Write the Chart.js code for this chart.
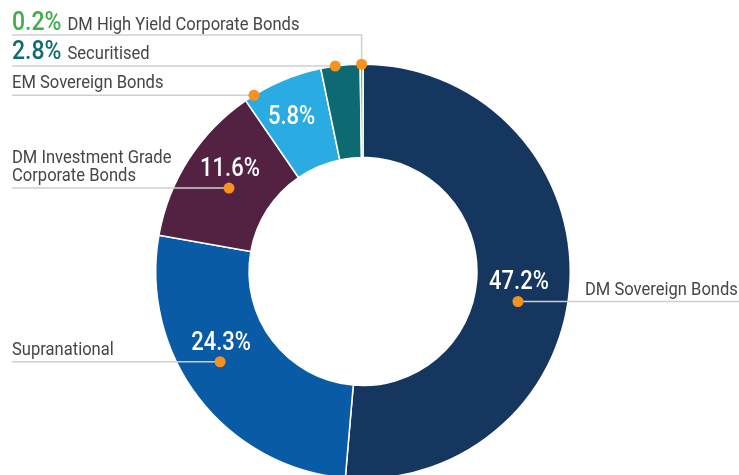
<!DOCTYPE html>
<html>
<head>
<meta charset="utf-8">
<script src="https://cdn.jsdelivr.net/npm/chart.js@4"></script>
<style>
  html, body { margin: 0; padding: 0; background: #fff; overflow: hidden; }
  #wrap { position: absolute; left: 0; top: 0; width: 739px; height: 480px; }
</style>
</head>
<body>
<div id="wrap"><canvas id="chart-allocation"></canvas></div>
<script>
const categories = [
    "DM Sovereign Bonds",
    "Supranational",
    "DM Investment Grade Corporate Bonds",
    "EM Sovereign Bonds",
    "Securitised",
    "DM High Yield Corporate Bonds"
];
const shares = [47.2, 24.3, 11.6, 5.8, 2.8, 0.2];
const sliceColors = ['#15375f', '#0a5ba5', '#532243', '#2aabe2', '#0e6a72', '#5bb947'];
const pctColors = ['#fff', '#fff', '#fff', '#fff', '#0f6b73', '#3fae49'];

const FONT = 'Roboto, "Liberation Sans", sans-serif';
const LINE = '#cfcfcf';
const DOT = '#f7921e';
const TXT = '#464646';

// where the orange marker sits in each slice: fraction along the arc, fraction across the ring
const markers = [
    { along: 0.546, across: 0.47 },
    { along: 0.555, across: 0.59 },
    { along: 0.48, across: 0.47 },
    { along: 0.12, across: 1.0 },
    { along: 0.37, across: 1.0 },
    { along: 0.5, across: 1.0 }
];

function pointOnArc(arc, along, across) {
    const p = arc.getProps(['x', 'y', 'startAngle', 'endAngle', 'innerRadius', 'outerRadius'], true);
    const a = p.startAngle + (p.endAngle - p.startAngle) * along;
    const r = p.innerRadius + (p.outerRadius - p.innerRadius) * across;
    return { x: p.x + Math.cos(a) * r, y: p.y + Math.sin(a) * r };
}

// condensed-looking text: squeeze horizontally
function squeezedText(ctx, text, x, y, align, sq) {
    const w = ctx.measureText(text).width * sq;
    let left = x;
    if (align === 'center') left = x - w / 2;
    ctx.save();
    ctx.textAlign = 'left';
    ctx.translate(left, y);
    ctx.scale(sq, 1);
    ctx.fillText(text, 0, 0);
    ctx.restore();
    return w;
}

const calloutPlugin = {
    id: 'callouts',
    afterDatasetsDraw(chart) {
        const ctx = chart.ctx;
        const arcs = chart.getDatasetMeta(0).data;
        const dots = arcs.map((arc, i) => pointOnArc(arc, markers[i].along, markers[i].across));
        const pct = v => v.toFixed(1) + '%';
        const W = chart.width;
        const NAME_SQ = 0.92, PCT_SQ = 0.88;

        ctx.save();
        ctx.strokeStyle = LINE;
        ctx.lineWidth = 1.5;

        // leader lines
        const hy = dots[5];
        ctx.beginPath();
        ctx.moveTo(dots[0].x, dots[0].y); ctx.lineTo(W, dots[0].y);
        [1, 2, 3, 4].forEach(i => { ctx.moveTo(12, dots[i].y); ctx.lineTo(dots[i].x, dots[i].y); });
        ctx.moveTo(hy.x, hy.y); ctx.lineTo(hy.x, 35); ctx.lineTo(12, 35);
        ctx.stroke();

        // dots
        ctx.fillStyle = DOT;
        dots.forEach(d => { ctx.beginPath(); ctx.arc(d.x, d.y, 5.5, 0, Math.PI * 2); ctx.fill(); });

        // white percentages inside slices
        ctx.textBaseline = 'alphabetic';
        ctx.fillStyle = pctColors[0];
        ctx.font = '500 25px ' + FONT;
        [0, 1, 2].forEach(i => squeezedText(ctx, pct(shares[i]), dots[i].x + 1, dots[i].y - 12, 'center', PCT_SQ));
        const em = pointOnArc(arcs[3], 0.43, 0.61);
        squeezedText(ctx, pct(shares[3]), em.x, em.y + 8, 'center', PCT_SQ);

        // category names
        ctx.fillStyle = TXT;
        ctx.font = '18px ' + FONT;
        squeezedText(ctx, categories[0], 585, dots[0].y - 6, 'left', NAME_SQ);
        squeezedText(ctx, categories[1], 12, dots[1].y - 7, 'left', NAME_SQ);
        squeezedText(ctx, 'DM Investment Grade', 12, dots[2].y - 25, 'left', NAME_SQ);
        squeezedText(ctx, 'Corporate Bonds', 12, dots[2].y - 7, 'left', NAME_SQ);
        squeezedText(ctx, categories[3], 12, dots[3].y - 7, 'left', NAME_SQ);

        // small slices: coloured percentage then name
        [[5, 30], [4, 59]].forEach(([i, base]) => {
            ctx.font = '500 25px ' + FONT;
            ctx.fillStyle = pctColors[i];
            const w = squeezedText(ctx, pct(shares[i]), 12, base, 'left', 0.92);
            ctx.font = '18px ' + FONT;
            ctx.fillStyle = TXT;
            squeezedText(ctx, categories[i], 12 + w + 6, base, 'left', NAME_SQ);
        });
        ctx.restore();
    }
};

const chartAllocation = new Chart(document.getElementById('chart-allocation'), {
    type: 'doughnut',
    data: {
        labels: categories,
        datasets: [{
            data: shares,
            backgroundColor: sliceColors,
            borderColor: '#ffffff',
            borderWidth: 1.5
        }]
    },
    options: {
        responsive: true,
        maintainAspectRatio: false,
        animation: false,
        cutout: '55%',
        layout: { padding: { left: 155, right: 168, top: 63, bottom: 0 } },
        plugins: {
            legend: { display: false },
            tooltip: { enabled: false }
        }
    },
    plugins: [calloutPlugin]
});
</script>
</body>
</html>
